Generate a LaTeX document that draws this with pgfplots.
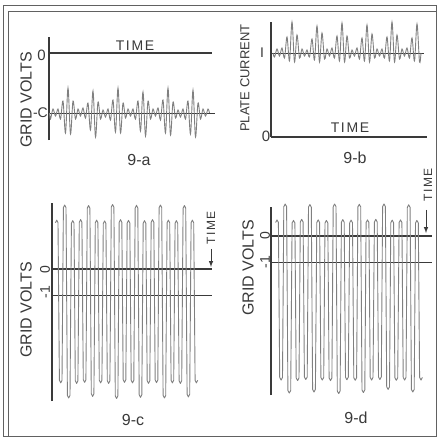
\documentclass[border=0pt]{standalone}
\usepackage{fontspec}
\setmainfont{Liberation Sans}
\newfontfamily\spaced[LetterSpace=12]{Liberation Sans}
\usepackage{pgfplots}
\pgfplotsset{compat=1.18}
\definecolor{ink}{HTML}{3A3A3A}
\definecolor{wave}{HTML}{808080}
\pgfplotsset{
  panel/.style={scale only axis, axis x line=none, axis y line=left,
    axis line style={-, ink, line width=1.1pt}, ytick=\empty, xtick=\empty,
    clip=false, enlargelimits=false, anchor=north west},
  wv/.style={wave, line width=0.9pt, smooth, tension=0.55, mark=none},
  wv2/.style={wave, line width=0.9pt, sharp plot, line join=round, mark=none},
  ref/.style={ink, line width=0.9pt, mark=none},
}
\newcommand{\fs}[1]{\fontsize{#1}{#1}\selectfont}
\begin{document}
\begin{tikzpicture}
\useasboundingbox (0,0) rectangle (439pt,-439pt);
\fill[white] (0,0) rectangle (439pt,-439pt);
\draw[ink!80, line width=0.8pt] (3pt,-5pt) rectangle (436pt,-436pt);
\draw[ink!80, line width=0.8pt] (8pt,-436pt) -- (8pt,-11pt) -- (436pt,-11pt);

% ---------- 9-a ----------
\begin{axis}[panel, at={(49pt,-37pt)}, width=166pt, height=103pt,
  xmin=0, xmax=166, ymin=-27, ymax=76]
\addplot[ref, line width=1.3pt] coordinates {(1,60) (163,60)};
\addplot[ref] coordinates {(1,0) (166,0)};
\addplot[wv] coordinates {
(0.5,0) (1.5,-6) (4.0,4) (6.5,-3) (9.0,4) (11.5,-6) (14.0,12) (16.5,-20) (19.0,25) (21.5,-21)
(24.0,12) (26.5,-6) (29.0,4) (31.5,-3) (34.0,5) (36.5,-5) (39.0,10) (41.5,-17) (44.0,22) (46.5,-24)
(49.0,11) (51.5,-6) (54.0,3) (56.5,-4) (59.0,4) (61.5,-7) (64.0,13) (66.5,-19) (69.0,25) (71.5,-20)
(74.0,10) (76.5,-5) (79.0,4) (81.5,-3) (84.0,4) (86.5,-6) (89.0,12) (91.5,-18) (94.0,21) (96.5,-23)
(99.0,12) (101.5,-6) (104.0,4) (106.5,-3) (109.0,5) (111.5,-7) (114.0,13) (116.5,-20) (119.0,25) (121.5,-22)
(124.0,11) (126.5,-5) (129.0,3) (131.5,-4) (134.0,4) (136.5,-6) (139.0,12) (141.5,-21) (144.0,23) (146.5,-24)
(149.0,10) (151.5,-6) (154.0,4) (156.5,-3) (159.0,4) (160.5,0)};
\node[rotate=90, font=\fs{16}, ink] at (axis cs:-23,13) {GRID VOLTS};
\node[anchor=east, font=\fs{15}, ink, inner sep=0pt] at (axis cs:-3,58) {0};
\node[anchor=east, font=\fs{14}, ink, inner sep=0pt] at (axis cs:-1,0) {-C};
\node[font=\fs{14}\spaced, ink] at (axis cs:86,67) {TIME};
\node[font=\fs{16}, ink] at (axis cs:90,-47) {9-a};
\end{axis}

% ---------- 9-b ----------
\begin{axis}[panel, at={(271pt,-22pt)}, width=159pt, height=115pt,
  xmin=0, xmax=159, ymin=0, ymax=115]
\addplot[ref] coordinates {(1,84) (153,84)};
\addplot[ref, line width=1.2pt] coordinates {(0,0) (156,0)};
\addplot[wv] coordinates {
(2.0,84) (3.5,80) (6.0,88) (8.5,81) (11.0,89) (13.5,79) (16.0,100) (18.5,76) (21.0,115) (23.5,75)
(26.0,102) (28.5,79) (31.0,88) (33.5,81) (36.0,87) (38.5,80) (41.0,98) (43.5,77) (46.0,111) (48.5,75)
(51.0,104) (53.5,78) (56.0,88) (58.5,81) (61.0,89) (63.5,79) (66.0,101) (68.5,76) (71.0,114) (73.5,75)
(76.0,101) (78.5,79) (81.0,87) (83.5,81) (86.0,89) (88.5,78) (91.0,99) (93.5,76) (96.0,112) (98.5,75)
(101.0,103) (103.5,79) (106.0,88) (108.5,81) (111.0,88) (113.5,79) (116.0,100) (118.5,76) (121.0,115) (123.5,75)
(126.0,102) (128.5,78) (131.0,88) (133.5,81) (136.0,89) (138.5,79) (141.0,99) (143.5,76) (146.0,113) (148.5,75)
(150.0,84)};
\node[rotate=90, font=\fs{13}, ink] at (axis cs:-26,59) {PLATE CURRENT};
\node[font=\fs{14}, ink] at (axis cs:-9,84) {I};
\node[font=\fs{15}, ink] at (axis cs:-5,1) {0};
\node[font=\fs{14}\spaced, ink] at (axis cs:79,9) {TIME};
\node[font=\fs{16}, ink] at (axis cs:84,-21) {9-b};
\end{axis}

% ---------- 9-c ----------
\begin{axis}[panel, at={(52pt,-203pt)}, width=160pt, height=198pt,
  xmin=0, xmax=160, ymin=-5.077, ymax=2.538]
\addplot[ref, line width=1.5pt] coordinates {(0,0) (160,0)};
\addplot[ref, line width=0.8pt] coordinates {(0,-1) (160,-1)};
\addplot[wv2] coordinates {
(3.4,1.78) (4.7,1.88) (6.0,1.78) (7.4,-4.28) (8.7,-4.38) (10.0,-4.28)
(11.4,2.36) (12.7,2.46) (14.0,2.36) (15.4,-4.86) (16.7,-4.96) (18.0,-4.86)
(19.4,1.76) (20.7,1.86) (22.0,1.76) (23.3,-4.30) (24.6,-4.40) (25.9,-4.30)
(27.3,1.80) (28.6,1.90) (29.9,1.80) (31.3,-4.26) (32.6,-4.36) (33.9,-4.26)
(35.3,2.34) (36.6,2.44) (37.9,2.34) (39.3,-4.80) (40.6,-4.90) (41.9,-4.80)
(43.3,1.78) (44.6,1.88) (45.9,1.78) (47.3,-4.28) (48.6,-4.38) (49.9,-4.28)
(51.3,1.75) (52.6,1.85) (53.9,1.75) (55.3,-4.30) (56.6,-4.40) (57.9,-4.30)
(59.3,2.38) (60.6,2.48) (61.9,2.38) (63.3,-4.88) (64.6,-4.98) (65.9,-4.88)
(67.2,1.80) (68.5,1.90) (69.8,1.80) (71.2,-4.26) (72.5,-4.36) (73.8,-4.26)
(75.2,1.77) (76.5,1.87) (77.8,1.77) (79.2,-4.28) (80.5,-4.38) (81.8,-4.28)
(83.2,2.35) (84.5,2.45) (85.8,2.35) (87.2,-4.84) (88.5,-4.94) (89.8,-4.84)
(91.2,1.76) (92.5,1.86) (93.8,1.76) (95.2,-4.30) (96.5,-4.40) (97.8,-4.30)
(99.2,1.80) (100.5,1.90) (101.8,1.80) (103.2,-4.27) (104.5,-4.37) (105.8,-4.27)
(107.1,2.36) (108.4,2.46) (109.7,2.36) (111.1,-4.86) (112.4,-4.96) (113.7,-4.86)
(115.1,1.78) (116.4,1.88) (117.7,1.78) (119.1,-4.28) (120.4,-4.38) (121.7,-4.28)
(123.1,1.76) (124.4,1.86) (125.7,1.76) (127.1,-4.30) (128.4,-4.40) (129.7,-4.30)
(131.1,2.34) (132.4,2.44) (133.7,2.34) (135.1,-4.82) (136.4,-4.92) (137.7,-4.82)
(139.1,1.78) (140.4,1.88) (141.7,1.78) (143.1,-4.28) (144.4,-4.38) (145.7,-4.28)};
\node[rotate=90, font=\fs{16}, ink] at (axis cs:-26,-1.577) {GRID VOLTS};
\node[rotate=90, font=\fs{14}, ink] at (axis cs:-7,-0.04) {0};
\node[rotate=90, font=\fs{14}, ink] at (axis cs:-7,-0.885) {-1};
\node[rotate=90, font=\fs{12}\spaced, ink] at (axis cs:159,1.577) {TIME};
\draw[ink, line width=1pt, -latex] (axis cs:159,0.77) -- (axis cs:159,0.08);
\node[font=\fs{16}, ink] at (axis cs:81,-5.81) {9-c};
\end{axis}

% ---------- 9-d ----------
\begin{axis}[panel, at={(271pt,-207pt)}, width=159pt, height=188pt,
  xmin=0, xmax=159, ymin=-6.115, ymax=1.115]
\addplot[ref, line width=1.5pt] coordinates {(0,0) (161,0)};
\addplot[ref, line width=0.8pt] coordinates {(0,-1) (161,-1)};
\addplot[wv2] coordinates {
(4.6,0.52) (6.0,0.62) (7.4,0.52) (8.7,-5.44) (10.1,-5.54) (11.5,-5.44)
(12.8,1.13) (14.2,1.23) (15.6,1.13) (16.9,-5.94) (18.3,-6.04) (19.7,-5.94)
(21.1,0.50) (22.5,0.60) (23.9,0.50) (25.2,-5.46) (26.6,-5.56) (28.0,-5.46)
(29.3,0.54) (30.7,0.64) (32.1,0.54) (33.4,-5.42) (34.8,-5.52) (36.2,-5.42)
(37.5,1.11) (38.9,1.21) (40.3,1.11) (41.6,-5.90) (43.0,-6.00) (44.4,-5.90)
(45.8,0.52) (47.2,0.62) (48.6,0.52) (49.9,-5.44) (51.3,-5.54) (52.7,-5.44)
(54.0,0.50) (55.4,0.60) (56.8,0.50) (58.1,-5.46) (59.5,-5.56) (60.9,-5.46)
(62.2,1.13) (63.6,1.23) (65.0,1.13) (66.3,-5.96) (67.7,-6.06) (69.1,-5.96)
(70.4,0.53) (71.8,0.63) (73.2,0.53) (74.5,-5.43) (75.9,-5.53) (77.3,-5.43)
(78.7,0.51) (80.1,0.61) (81.5,0.51) (82.8,-5.45) (84.2,-5.55) (85.6,-5.45)
(86.9,1.12) (88.3,1.22) (89.7,1.12) (91.0,-5.92) (92.4,-6.02) (93.8,-5.92)
(95.1,0.52) (96.5,0.62) (97.9,0.52) (99.2,-5.44) (100.6,-5.54) (102.0,-5.44)
(103.4,0.54) (104.8,0.64) (106.2,0.54) (107.5,-5.42) (108.9,-5.52) (110.3,-5.42)
(111.6,1.13) (113.0,1.23) (114.4,1.13) (115.7,-5.80) (117.1,-5.90) (118.5,-5.80)
(119.8,0.51) (121.2,0.61) (122.6,0.51) (123.9,-5.45) (125.3,-5.55) (126.7,-5.45)
(128.1,0.52) (129.5,0.62) (130.9,0.52) (132.2,-5.44) (133.6,-5.54) (135.0,-5.44)
(136.3,1.10) (137.7,1.20) (139.1,1.10) (140.4,-5.90) (141.8,-6.00) (143.2,-5.90)
(144.5,0.50) (145.9,0.60) (147.3,0.50) (148.6,-5.44) (150.0,-5.54) (151.4,-5.44)};
\node[rotate=90, font=\fs{16}, ink] at (axis cs:-23,-1.23) {GRID VOLTS};
\node[rotate=90, font=\fs{14}, ink] at (axis cs:-6,0) {0};
\node[rotate=90, font=\fs{14}, ink] at (axis cs:-6,-1) {-1};
\node[rotate=90, font=\fs{12}\spaced, ink] at (axis cs:157,1.96) {TIME};
\draw[ink, line width=1pt, -latex] (axis cs:155,1.0) -- (axis cs:155,0.115);
\node[font=\fs{16}, ink] at (axis cs:85,-7.0) {9-d};
\end{axis}
\end{tikzpicture}
\end{document}
